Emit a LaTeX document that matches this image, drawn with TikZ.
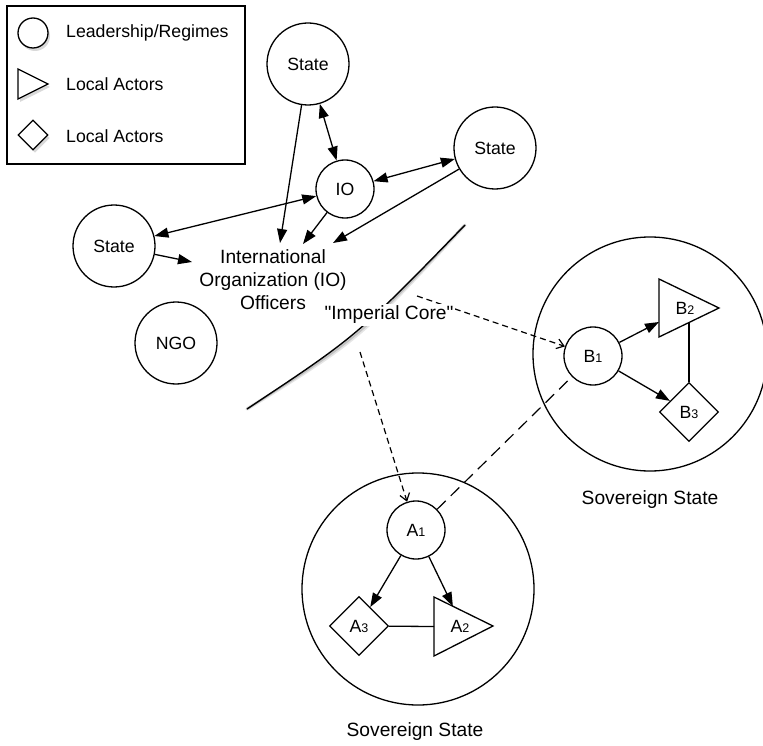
\documentclass[tikz,border=0pt]{standalone}
\usepackage{fontspec}
\setmainfont{Liberation Sans}[Ligatures=TeXOff]
\usetikzlibrary{arrows.meta,shapes.geometric,calc,shadows}

% small digit set on the baseline after a letter (A1, B2, ...)
\newcommand\lowdigit[1]{{\fontsize{12.5}{12.5}\selectfont #1}}

\begin{document}
\begin{tikzpicture}[x=1pt,y=-1pt,
  every node/.style={inner sep=0pt},
  txt/.style={font=\fontsize{17.7}{21}\selectfont},
  bigtxt/.style={font=\fontsize{19.2}{23}\selectfont},
  edge/.style={line width=1.3pt},
  regime/.style={circle,draw,edge,txt},
  actor/.style={regime,minimum size=58pt},
  statenode/.style={regime,minimum size=82pt},
  sovereign/.style={circle,draw,edge},
  localactor/.style={diamond,draw,edge,txt,minimum size=59pt,aspect=1},
  arrow/.style={edge,-{Triangle[length=14pt,width=10pt]}},
  twoway/.style={edge,{Triangle[length=14pt,width=10pt]}-{Triangle[length=14pt,width=10pt]}},
  influence/.style={line width=1.2pt,dash pattern=on 6pt off 4pt,-{Straight Barb[length=7pt,width=10pt]}},
  tie/.style={line width=1.2pt,dash pattern=on 12pt off 7pt},
  legendshadow/.style={fill=white,drop shadow={shadow xshift=2pt,shadow yshift=-3pt,opacity=.3}},
]
\useasboundingbox (0,0) rectangle (763,746);

% ---------- legend ----------
\node[draw,edge,minimum width=238pt,minimum height=158pt] (legend) at (126,85) {};
\node[circle,draw,edge,minimum size=30pt,legendshadow] (lgcircle) at (33,33) {};
\coordinate (lgt1) at (18,69);
\coordinate (lgt2) at (48,84);
\coordinate (lgt3) at (18,99);
\draw[edge,legendshadow,line join=miter] (lgt1) -- (lgt2) -- (lgt3) -- cycle;
\node[diamond,draw,edge,minimum size=30pt,aspect=1,legendshadow] (lgdiamond) at (33,135) {};
\node[txt,anchor=west] (lgtext1) at (66,33) {Leadership/Regimes};
\node[txt,anchor=west] (lgtext2) at (66,84) {Local Actors};
\node[txt,anchor=west] (lgtext3) at (66,136) {Local Actors};

% ---------- imperial core ----------
\node[statenode] (stop) at (308,64) {State};
\node[actor] (io) at (345,189) {IO};
\node[statenode] (sright) at (495,148) {State};
\node[statenode] (sleft) at (114,246) {State};
\node[statenode] (ngo) at (176,343) {NGO};
\node[bigtxt,align=center] (officers) at (273,280)
  {International\\Organization (IO)\\Officers};

\coordinate (tip1) at (280,243);
\coordinate (tip2) at (303,244);
\coordinate (tip3) at (333,243);
\coordinate (tip4) at (192,262);

\draw[twoway] (stop) -- (io);
\draw[twoway] (io) -- (sright);
\draw[twoway] (sleft) -- (io);
\draw[arrow] (stop) -- (tip1);
\draw[arrow] (io) -- (tip2);
\draw[arrow] (sright) -- (tip3);
\draw[arrow] (sleft) -- (tip4);

% boundary of the core, with a soft shadow
\coordinate (cvlow) at (247,409);
\coordinate (cvhigh) at (465,225);
\draw[line width=3.5pt,black,opacity=.1,line cap=round,shift={(2,3.5)}]
  (cvlow) .. controls (357,336) .. (cvhigh);
\draw[line width=2pt,black,opacity=.15,line cap=round,shift={(1.5,2.2)}]
  (cvlow) .. controls (357,336) .. (cvhigh);
\draw[line width=1.4pt] (cvlow) .. controls (357,336) .. (cvhigh);

% ---------- sovereign state A ----------
\node[sovereign,minimum size=232pt] (sova) at (418,589) {};
\node[bigtxt] (sovalabel) at (415,732) {Sovereign State};
\node[actor] (a1) at (416,530) {A\lowdigit{1}};
\node[localactor] (a3) at (359,626) {A\lowdigit{3}};
\coordinate (a2top) at (434,597);
\coordinate (a2bot) at (434,656);
\coordinate (a2tip) at (493,626);
\draw[edge,line join=miter] (a2top) -- (a2tip) -- (a2bot) -- cycle;
\node[txt] (a2) at (460,626) {A\lowdigit{2}};
\coordinate (a2in) at ($(a2top)!0.32!(a2tip)$);
\coordinate (a2base) at ($(a2top)!0.5!(a2bot)$);
\draw[arrow] (a1) -- (a3);
\draw[arrow] (a1) -- (a2in);
\draw[edge] (a3) -- (a2base);

% ---------- sovereign state B ----------
\node[sovereign,minimum size=234pt] (sovb) at (650,354) {};
\node[bigtxt] (sovblabel) at (650,500) {Sovereign State};
\node[actor] (b1) at (593,356) {B\lowdigit{1}};
\node[localactor] (b3) at (689,412) {B\lowdigit{3}};
\coordinate (b2top) at (659,279);
\coordinate (b2bot) at (659,337);
\coordinate (b2tip) at (719,308);
\draw[edge,line join=miter] (b2top) -- (b2tip) -- (b2bot) -- cycle;
\node[txt] (b2) at (685,308) {B\lowdigit{2}};
\coordinate (b2in) at (659,322);
\coordinate (b2mid) at ($(b2bot)!0.5!(b2tip)$);
\draw[arrow] (b1) -- (b2in);
\draw[arrow] (b1) -- (b3);
\draw[edge] (b2mid) -- (b3);

% ---------- reach of the core ----------
\coordinate (fromcoreb) at (417,296);
\coordinate (fromcorea) at (360,352);
\draw[influence] (fromcoreb) -- (b1);
\draw[influence] (fromcorea) -- (a1);
\draw[tie] (a1) -- (b1);

\node[bigtxt,fill=white,inner sep=2pt] (core) at (389,315) {"Imperial Core"};
\end{tikzpicture}
\end{document}
